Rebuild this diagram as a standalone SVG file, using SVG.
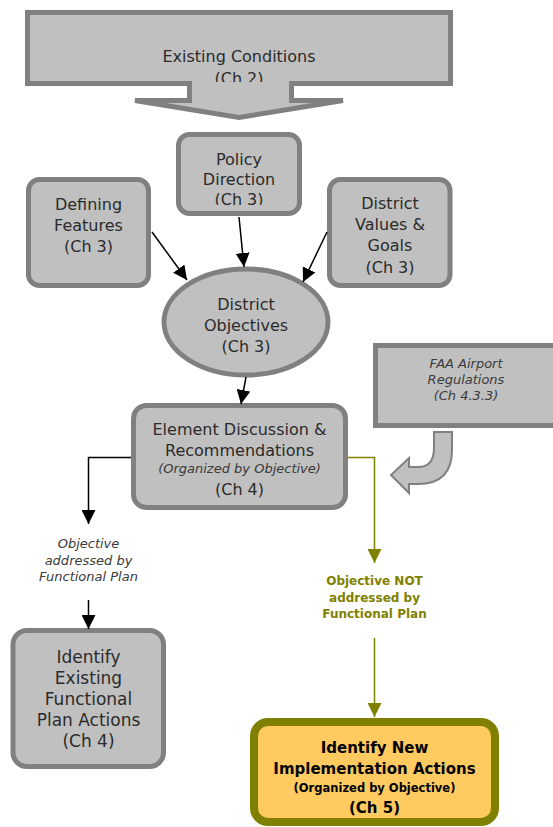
<svg xmlns="http://www.w3.org/2000/svg" width="553" height="827" viewBox="0 0 553 827">
<style>
.box{fill:#c0c0c0;stroke:#808080;stroke-width:5}
.t{font-family:"DejaVu Sans",Verdana,sans-serif;font-size:16px;fill:#2b2b2b;text-anchor:middle}
.it{font-family:"DejaVu Sans",Verdana,sans-serif;font-size:13px;font-style:italic;fill:#3a3a3a;text-anchor:middle}
.ol{font-family:"DejaVu Sans",Verdana,sans-serif;font-size:12px;font-weight:bold;fill:#808000;text-anchor:middle}
.bk{fill:none;stroke:#000;stroke-width:1.5}
.olv{fill:none;stroke:#808000;stroke-width:1.5}
.b{font-family:"DejaVu Sans",Verdana,sans-serif;font-weight:bold;fill:#000;text-anchor:middle}
</style>
<defs>
<marker id="ah" markerUnits="userSpaceOnUse" markerWidth="14" markerHeight="14" refX="14" refY="7" orient="auto"><path d="M0,0 L14,7 L0,14 Z" fill="#000"/></marker>
<marker id="ahO" markerUnits="userSpaceOnUse" markerWidth="14" markerHeight="14" refX="14" refY="7" orient="auto"><path d="M0,0 L14,7 L0,14 Z" fill="#808000"/></marker>
<clipPath id="c1"><rect x="0" y="0" width="553" height="82"/></clipPath>
<clipPath id="c2"><rect x="0" y="0" width="553" height="205"/></clipPath>
<clipPath id="c3"><rect x="0" y="0" width="553" height="275"/></clipPath>
</defs>

<g id="existing-conditions">
<polygon class="box" points="27.5,12.5 450.5,12.5 450.5,83.5 291.5,83.5 291.5,100.5 343,100.5 239,117.5 135,100.5 189.5,100.5 189.5,83.5 27.5,83.5"/>
<text class="t" x="239" y="62">Existing Conditions</text>
<text class="t" x="239" y="84" clip-path="url(#c1)">(Ch 2)</text>
</g>

<g id="policy-direction">
<rect class="box" x="178.5" y="134.5" width="121" height="79" rx="11"/>
<text class="t" x="239" y="165">Policy</text>
<text class="t" x="239" y="185">Direction</text>
<text class="t" x="239" y="205" clip-path="url(#c2)">(Ch 3)</text>
</g>

<g id="defining-features">
<rect class="box" x="28.5" y="179.5" width="120" height="106" rx="11"/>
<text class="t" x="88.5" y="210">Defining</text>
<text class="t" x="88.5" y="231">Features</text>
<text class="t" x="88.5" y="252">(Ch 3)</text>
</g>

<g id="district-values">
<rect class="box" x="329.5" y="179.5" width="120.5" height="106" rx="11"/>
<text class="t" x="390" y="209">District</text>
<text class="t" x="390" y="230">Values &amp;</text>
<text class="t" x="390" y="251">Goals</text>
<text class="t" x="390" y="273" clip-path="url(#c3)">(Ch 3)</text>
</g>

<g id="district-objectives">
<ellipse class="box" cx="246" cy="322" rx="82" ry="53"/>
<text class="t" x="246" y="310">District</text>
<text class="t" x="246" y="331">Objectives</text>
<text class="t" x="246" y="352">(Ch 3)</text>
</g>

<g id="faa-regulations">
<rect class="box" x="375.5" y="345.5" width="185" height="80"/>
<text class="it" x="466" y="368">FAA Airport</text>
<text class="it" x="466" y="384">Regulations</text>
<text class="it" x="466" y="400">(Ch 4.3.3)</text>
<path d="M434,432 H452 V450 Q452,484 418,484 H409 V493 L391,475 L409,458 V467 H418 Q434,467 434,448 Z" fill="#c0c0c0" stroke="#808080" stroke-width="2"/>
</g>

<g id="element-discussion">
<rect class="box" x="133.5" y="405.5" width="212" height="102" rx="13"/>
<text class="t" x="239.5" y="435">Element Discussion &amp;</text>
<text class="t" x="239.5" y="456">Recommendations</text>
<text class="it" x="239.5" y="473">(Organized by Objective)</text>
<text class="t" x="239.5" y="495">(Ch 4)</text>
</g>

<g id="existing-actions">
<rect class="box" x="13" y="630.5" width="150.5" height="136" rx="14"/>
<text class="t" x="88.5" y="663" style="font-size:17px">Identify</text>
<text class="t" x="88.5" y="684" style="font-size:17px">Existing</text>
<text class="t" x="88.5" y="705" style="font-size:17px">Functional</text>
<text class="t" x="88.5" y="726" style="font-size:17px">Plan Actions</text>
<text class="t" x="88.5" y="747" style="font-size:17px">(Ch 4)</text>
</g>

<g id="new-actions">
<rect x="254" y="722" width="241" height="100" rx="14" fill="#ffca5f" stroke="#808000" stroke-width="8"/>
<text class="b" x="374.5" y="753" style="font-size:15px">Identify New</text>
<text class="b" x="374.5" y="774" style="font-size:15px">Implementation Actions</text>
<text class="b" x="374.5" y="792" style="font-size:11.5px">(Organized by Objective)</text>
<text class="b" x="374.5" y="813" style="font-size:15px">(Ch 5)</text>
</g>

<g id="labels">
<text class="it" x="88.5" y="548">Objective</text>
<text class="it" x="88.5" y="565">addressed by</text>
<text class="it" x="88.5" y="581">Functional Plan</text>
<text class="ol" x="374.5" y="585">Objective NOT</text>
<text class="ol" x="374.5" y="602">addressed by</text>
<text class="ol" x="374.5" y="618">Functional Plan</text>
</g>

<g id="connectors">
<line class="bk" x1="152" y1="232" x2="187" y2="280" marker-end="url(#ah)"/>
<line class="bk" x1="239" y1="217" x2="244" y2="267" marker-end="url(#ah)"/>
<line class="bk" x1="327" y1="232" x2="303" y2="282" marker-end="url(#ah)"/>
<line class="bk" x1="246" y1="377" x2="241" y2="404" marker-end="url(#ah)"/>
<polyline class="bk" points="131,457.5 88.5,457.5 88.5,524" marker-end="url(#ah)"/>
<line class="bk" x1="88.5" y1="600" x2="88.5" y2="629" marker-end="url(#ah)"/>
<polyline class="olv" points="348,457.5 374.5,457.5 374.5,563" marker-end="url(#ahO)"/>
<line class="olv" x1="374.5" y1="638" x2="374.5" y2="717" marker-end="url(#ahO)"/>
</g>
</svg>
